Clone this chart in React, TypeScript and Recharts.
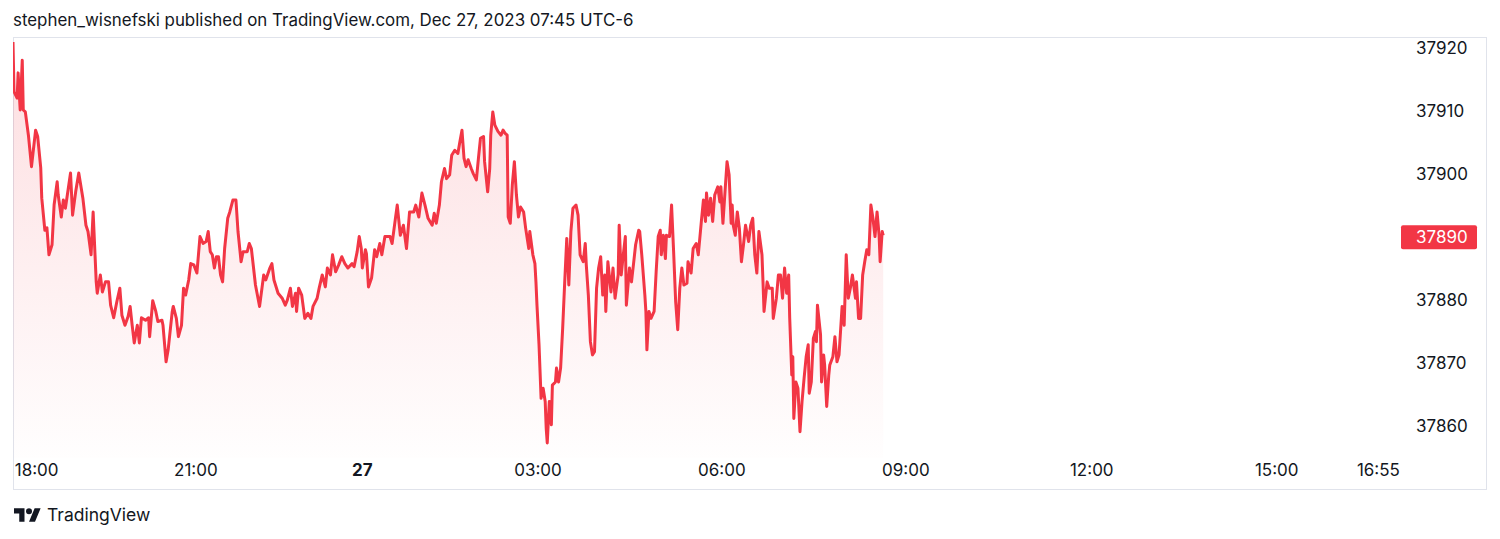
import React from 'react';
import { AreaChart, Area, XAxis, YAxis, ReferenceLine } from 'recharts';

const headerText = 'stephen_wisnefski published on TradingView.com, Dec 27, 2023 07:45 UTC-6';

// bar index (1-minute bars since session start)
const bars = [
  0, 1, 4, 5, 7, 9, 10, 12, 15, 18,
  22, 24, 27, 28, 31, 33, 35, 38, 40, 43,
  44, 47, 49, 51, 56, 58, 61, 64, 68, 71,
  73, 76, 78, 81, 82, 85, 87, 90, 93, 95,
  98, 101, 104, 106, 109, 112, 114, 116, 118, 121,
  123, 125, 129, 132, 133, 136, 139, 141, 145, 146,
  149, 151, 155, 156, 159, 161, 164, 166, 168, 171,
  173, 176, 179, 182, 185, 188, 190, 192, 194, 196,
  198, 200, 202, 204, 206, 209, 211, 214, 217, 219,
  222, 224, 228, 230, 232, 236, 240, 244, 246, 250,
  252, 254, 258, 262, 265, 267, 270, 272, 275, 276,
  278, 281, 284, 287, 290, 292, 296, 298, 301, 304,
  306, 309, 311, 314, 317, 320, 323, 326, 330, 332,
  335, 337, 339, 340, 343, 344, 346, 349, 352, 354,
  357, 359, 362, 367, 369, 372, 374, 377, 380, 383,
  386, 390, 392, 395, 398, 401, 404, 408, 410, 412,
  415, 417, 420, 422, 425, 427, 430, 433, 435, 437,
  439, 441, 443, 446, 448, 451, 453, 455, 458, 459,
  462, 464, 465, 467, 469, 472, 475, 477, 479, 481,
  482, 484, 486, 488, 490, 492, 494, 497, 499, 502,
  503, 506, 508, 509, 510, 512, 514, 516, 518, 519,
  520, 522, 524, 525, 528, 529, 531, 533, 535, 537,
  539, 541, 543, 545, 548, 550, 552, 555, 557, 558,
  560, 562, 564, 566, 568, 570, 572, 574, 576, 577,
  579, 582, 584, 586, 589, 590, 592, 594, 596, 597,
  600, 602, 604, 606, 609, 610, 612, 615, 616, 617,
  619, 621, 624, 626, 628, 630, 631, 633, 635, 636,
  639, 641, 643, 645, 647, 649, 651, 653, 656, 657,
  660, 662, 665, 667, 670, 672, 674, 675, 677, 679,
  681, 683, 686, 688, 689, 691, 693, 695, 697, 699,
  700, 701, 703, 705, 707, 709, 711, 713, 716, 718,
  720, 722, 724, 726, 729, 730, 731, 734, 736, 739,
  740, 743, 745, 747, 749, 751, 753, 755, 756, 758,
  759, 760, 762, 764, 766, 768, 770, 772, 774, 775,
  777, 779, 781, 782, 783, 786, 787, 789, 790, 792,
  794, 795, 798, 800, 802, 804, 807, 809, 811, 813,
  815, 817, 820, 821, 823, 825, 827, 829, 831, 833,
  835, 837, 839, 841, 843, 844, 846, 847,
];

const prices = [
  37921.0, 37913.1, 37912.1, 37916.1, 37910.2, 37918.1, 37910.2, 37909.9, 37906.2, 37901.2,
  37907.0, 37906.0, 37901.0, 37896.2, 37891.1, 37891.5, 37887.2, 37888.8, 37895.1, 37898.8,
  37896.7, 37893.2, 37895.9, 37894.6, 37900.2, 37893.5, 37897.2, 37900.2, 37896.2, 37891.9,
  37890.9, 37887.2, 37894.0, 37882.9, 37881.1, 37884.0, 37881.3, 37882.9, 37882.9, 37879.2,
  37877.2, 37879.7, 37881.9, 37877.6, 37876.0, 37877.4, 37879.0, 37876.0, 37873.2, 37876.0,
  37873.2, 37877.2, 37876.8, 37877.2, 37874.2, 37879.9, 37878.2, 37876.6, 37876.8, 37876.0,
  37870.2, 37872.1, 37878.2, 37879.0, 37877.1, 37874.2, 37876.0, 37881.9, 37880.8, 37883.2,
  37885.8, 37885.6, 37884.3, 37890.1, 37889.0, 37889.3, 37890.9, 37887.7, 37887.2, 37885.1,
  37886.9, 37886.9, 37884.0, 37882.9, 37888.2, 37893.0, 37894.0, 37895.9, 37895.9, 37890.9,
  37886.1, 37887.7, 37887.7, 37889.0, 37888.2, 37882.4, 37879.0, 37884.0, 37883.2, 37885.1,
  37885.8, 37883.2, 37881.1, 37880.3, 37879.2, 37880.0, 37881.9, 37879.0, 37881.1, 37878.2,
  37881.9, 37880.8, 37877.1, 37877.9, 37877.1, 37879.0, 37880.3, 37881.9, 37884.0, 37882.1,
  37885.1, 37884.0, 37887.2, 37884.5, 37885.6, 37886.9, 37885.8, 37885.1, 37885.8, 37885.3,
  37887.7, 37890.1, 37888.2, 37885.1, 37888.0, 37887.4, 37882.1, 37883.5, 37888.0, 37886.9,
  37889.0, 37887.2, 37890.1, 37890.1, 37889.0, 37892.7, 37895.1, 37890.3, 37891.9, 37888.2,
  37894.0, 37894.0, 37895.1, 37893.2, 37897.0, 37895.1, 37893.0, 37891.9, 37893.8, 37892.2,
  37895.1, 37898.8, 37900.9, 37899.3, 37899.9, 37903.0, 37903.8, 37903.3, 37905.2, 37907.0,
  37902.5, 37901.2, 37902.3, 37900.9, 37900.1, 37899.1, 37902.5, 37905.7, 37906.0, 37902.0,
  37897.2, 37900.9, 37906.2, 37909.9, 37907.8, 37906.8, 37906.2, 37907.0, 37906.5, 37906.2,
  37893.2, 37892.2, 37898.3, 37902.0, 37896.7, 37893.2, 37894.8, 37894.0, 37891.4, 37888.2,
  37890.9, 37887.2, 37885.8, 37882.9, 37879.2, 37872.9, 37864.4, 37866.0, 37863.9, 37859.6,
  37857.3, 37863.9, 37860.2, 37866.5, 37867.0, 37869.2, 37867.0, 37869.2, 37875.5, 37882.9,
  37889.8, 37882.4, 37890.9, 37894.6, 37895.1, 37893.5, 37887.2, 37886.1, 37889.0, 37885.6,
  37880.8, 37873.4, 37871.3, 37871.8, 37881.9, 37885.1, 37886.9, 37880.8, 37884.0, 37878.2,
  37886.1, 37881.3, 37885.1, 37880.3, 37884.0, 37891.9, 37884.0, 37887.2, 37890.1, 37879.2,
  37885.1, 37882.9, 37885.8, 37888.8, 37891.1, 37890.9, 37887.2, 37880.8, 37878.2, 37872.1,
  37878.2, 37877.1, 37878.2, 37884.5, 37890.1, 37891.1, 37887.2, 37890.3, 37886.6, 37890.3,
  37890.1, 37895.1, 37887.7, 37879.7, 37875.3, 37881.9, 37885.1, 37882.4, 37882.7, 37886.1,
  37884.3, 37888.2, 37889.0, 37887.2, 37892.5, 37895.9, 37892.5, 37897.0, 37893.5, 37896.2,
  37892.5, 37896.7, 37898.0, 37895.6, 37898.0, 37892.2, 37897.2, 37902.0, 37899.9, 37892.2,
  37895.1, 37891.9, 37890.3, 37894.0, 37891.4, 37886.1, 37888.8, 37891.9, 37889.3, 37891.9,
  37893.0, 37887.2, 37884.3, 37890.9, 37887.2, 37882.9, 37878.2, 37882.9, 37881.9, 37881.9,
  37877.1, 37880.3, 37884.0, 37884.0, 37880.3, 37885.1, 37881.1, 37884.0, 37877.1, 37868.1,
  37871.0, 37861.2, 37867.0, 37866.0, 37859.1, 37863.9, 37867.6, 37871.0, 37872.9, 37865.2,
  37867.0, 37873.9, 37875.0, 37873.4, 37879.2, 37874.5, 37867.0, 37871.3, 37869.7, 37863.1,
  37868.1, 37869.7, 37871.0, 37874.2, 37870.2, 37871.3, 37879.0, 37876.0, 37887.2, 37880.3,
  37881.9, 37884.0, 37880.3, 37882.9, 37877.1, 37877.1, 37884.0, 37886.1, 37888.0, 37887.2,
  37895.1, 37893.0, 37890.1, 37894.0, 37890.3, 37886.1, 37890.9, 37890.3,
];

const timeTicks = [23, 178, 340, 511, 690, 869, 1050, 1230, 1329];
const timeLabels = ['18:00', '21:00', '27', '03:00', '06:00', '09:00', '12:00', '15:00', '16:55'];
const boldLabels = ['27'];
const priceTicks = [37860, 37870, 37880, 37900, 37910, 37920];
const xDomain = [0, 1350];
const yDomain = [37854.92, 37921.64];

const RED = '#F23645';
const TEXT = '#131722';
const FONT = 'Inter, Roboto, "DejaVu Sans", sans-serif';

const data = bars.map((b, i) => ({ bar: b, price: prices[i] }));
const lastPrice = Math.round(prices[prices.length - 1]);

const TimeTick = (props: any) => {
  const { x, y, payload } = props;
  const idx = timeTicks.indexOf(payload.value);
  const label = timeLabels[idx] ?? '';
  return (
    <text x={x} y={y} dy="0.71em" textAnchor="middle" fill={TEXT} fontSize={17}
      fontFamily={FONT} fontWeight={boldLabels.includes(label) ? 700 : 400}>
      {label}
    </text>
  );
};

const PriceTick = (props: any) => {
  const { x, y, payload } = props;
  return (
    <text x={x} y={y} dy="0.355em" textAnchor="start" fill={TEXT} fontSize={17} fontFamily={FONT}>
      {payload.value}
    </text>
  );
};

const LastPriceLabel = (props: any) => {
  const vb = props.viewBox || {};
  const x0 = vb.x + vb.width + 1;
  const y0 = vb.y;
  return (
    <g>
      <rect x={x0} y={y0 - 12} width={76} height={24} rx={2} fill={RED} />
      <text x={x0 + 15} y={y0} dy="0.355em" fill="#ffffff" fontSize={17} fontFamily={FONT}>
        {lastPrice}
      </text>
    </g>
  );
};

export default function App() {
  return (
    <div style={{ position: 'relative', width: 1500, height: 539, background: '#fff', overflow: 'hidden' }}>
      <style>{`body{margin:0;background:#fff;}`}</style>
      <div style={{ position: 'absolute', left: 13, top: 9, fontFamily: FONT, fontSize: 16.9, lineHeight: '22px', color: TEXT, whiteSpace: 'nowrap' }}>
        {headerText}
      </div>
      <div style={{ position: 'absolute', left: 13, top: 37, width: 1472, height: 451, border: '1px solid #e0e3eb' }} />
      <div style={{ position: 'absolute', left: 0, top: 0 }}>
        <AreaChart width={1500} height={539} data={data} margin={{ top: 38, right: 0, bottom: 0, left: 13 }}>
          <defs>
            <linearGradient id="areaFill" x1="0" y1="0" x2="0" y2="1">
              <stop offset="0%" stopColor={RED} stopOpacity={0.28} />
              <stop offset="100%" stopColor={RED} stopOpacity={0.01} />
            </linearGradient>
          </defs>
          <XAxis dataKey="bar" type="number" domain={xDomain} ticks={timeTicks} interval={0}
            axisLine={false} tickLine={false} tickMargin={0} height={81} tick={<TimeTick />} allowDataOverflow />
          <YAxis orientation="right" type="number" domain={yDomain} ticks={priceTicks} interval={0}
            axisLine={false} tickLine={false} tickMargin={10} width={100} tick={<PriceTick />} allowDataOverflow />
          <Area type="linear" dataKey="price" stroke={RED} strokeWidth={3} strokeLinejoin="round" fill="url(#areaFill)"
            isAnimationActive={false} dot={false} activeDot={false} />
          <ReferenceLine y={lastPrice} stroke="none" ifOverflow="visible" label={<LastPriceLabel />} />
        </AreaChart>
      </div>
      <div style={{ position: 'absolute', left: 14, top: 504, display: 'flex', alignItems: 'center' }}>
        <svg width={27} height={20} viewBox="0 2 36 22">
          <path d="M14 22H7V11H0V4h14v18zM28 22h-8l7.5-18h8L28 22z" fill={TEXT} />
          <circle cx={20} cy={8} r={4} fill={TEXT} />
        </svg>
        <span style={{ marginLeft: 6, fontFamily: FONT, fontSize: 17.5, fontWeight: 400, color: TEXT }}>TradingView</span>
      </div>
    </div>
  );
}
